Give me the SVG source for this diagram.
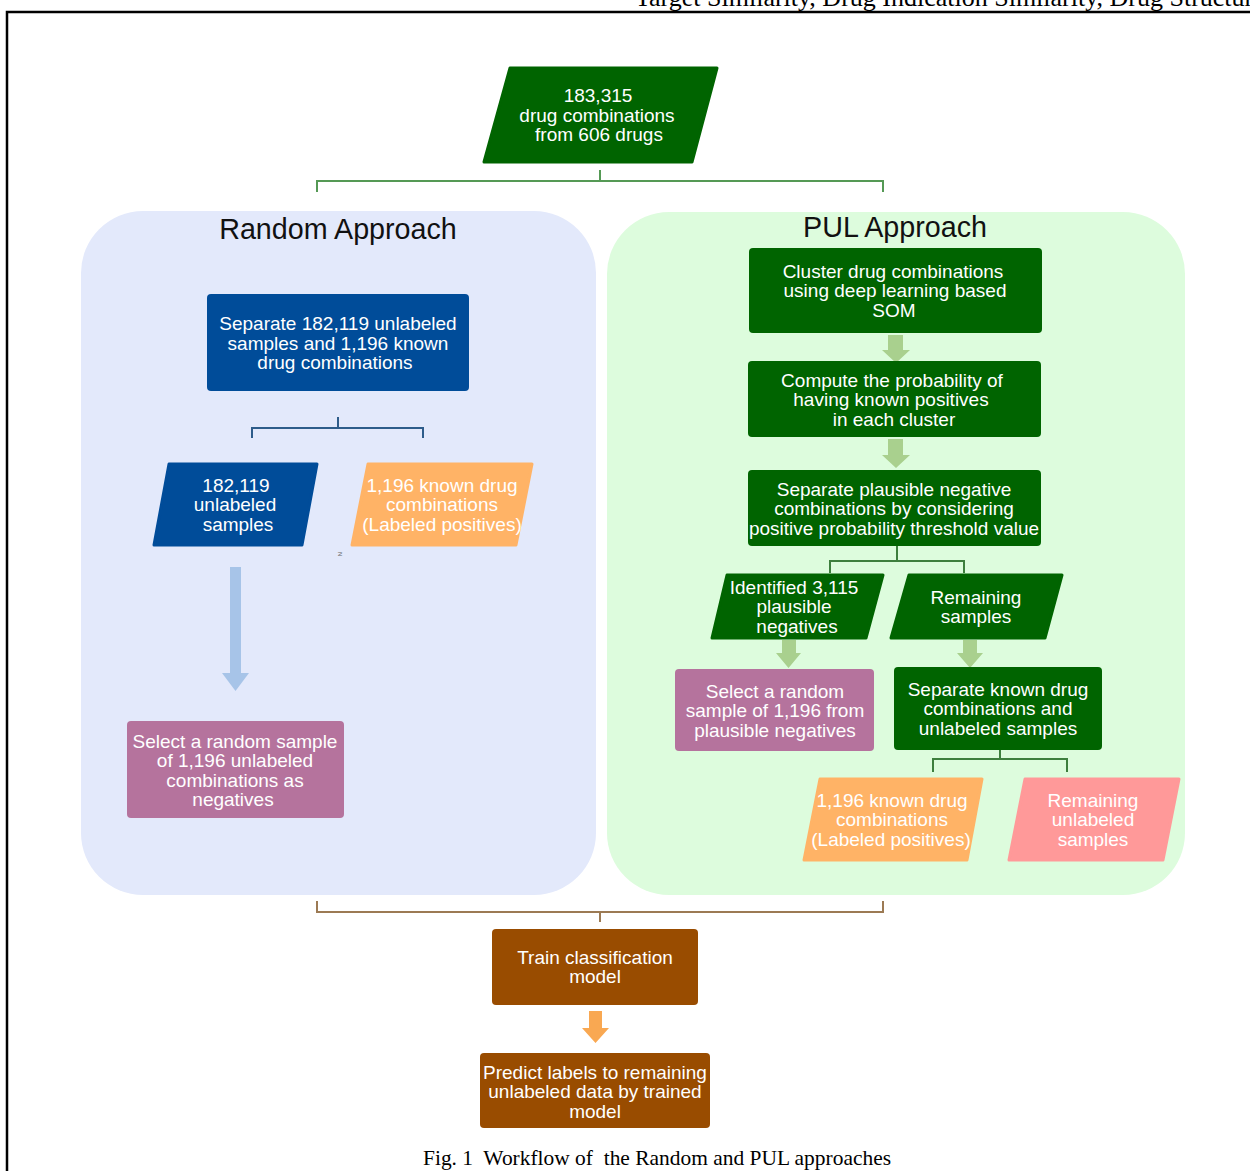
<svg xmlns="http://www.w3.org/2000/svg" width="1250" height="1171" viewBox="0 0 1250 1171">
<style>
.t{font-family:"Liberation Sans",Arial,sans-serif;font-size:19px;fill:#fff;text-anchor:middle}
.title{font-family:"Liberation Sans",Arial,sans-serif;font-size:28.7px;fill:#111;text-anchor:middle}
.serif{font-family:"Liberation Serif","Times New Roman",serif;fill:#000}
.green{fill:#006400}
.blue{fill:#004c99}
.pink{fill:#b5739d}
.orange{fill:#ffb366}
.salmon{fill:#ff9999}
.brown{fill:#994c00}
.para{stroke-width:3;stroke-linejoin:round}
.conn{fill:none;stroke-width:2}
</style>
<rect width="1250" height="1171" fill="#fff"/>
<!-- page frame -->
<text class="serif" x="635" y="6" font-size="26">Target Similarity, Drug Indication Similarity, Drug Structure</text>
<path d="M7 1171 V12 H1250" fill="none" stroke="#000" stroke-width="2.5"/>

<!-- panels -->
<g id="random-panel">
<rect x="81" y="211" width="515" height="684" rx="62" fill="#e3e9fb"/>
<text class="title" x="338" y="239">Random Approach</text>
</g>
<g id="pul-panel">
<rect x="607" y="212" width="578" height="683" rx="62" fill="#ddfcdd"/>
<text class="title" x="895" y="237">PUL Approach</text>
</g>

<!-- connectors -->
<g id="connectors">
<path class="conn" stroke="#559955" d="M600 170 V181 M317 192 V181 H883 V192"/>
<path class="conn" stroke="#2e5c8a" d="M338 417 V428 M252 438 V428 H423 V438"/>
<path class="conn" stroke="#3d7f3d" d="M897 546 V561 M830 573 V561 H964 V573"/>
<path class="conn" stroke="#3d7f3d" d="M1000 750 V759 M933 772 V759 H1067 V772"/>
<path class="conn" stroke="#9c7a54" d="M317 901 V912 H883 V901 M600 912 V922"/>
<!-- block arrows -->
<polygon fill="#a7c4e8" points="230,567 241,567 241,673 249,673 235.5,691 222,673 230,673"/>
<polygon fill="#a9d08e" points="888,335 903,335 903,350 910,350 896,363 882,350 888,350"/>
<polygon fill="#a9d08e" points="888,439 903,439 903,455 910,455 896,468 882,455 888,455"/>
<polygon fill="#a9d08e" points="782,640 796,640 796,653 801,653 788.5,668 776,653 782,653"/>
<polygon fill="#a9d08e" points="963,640 977,640 977,653 983,653 970,668 957,653 963,653"/>
<polygon fill="#f9a852" points="589,1011 602,1011 602,1028 609,1028 595.5,1043 582,1028 589,1028"/>
</g>

<!-- nodes -->
<g id="n-start">
<polygon class="green para" stroke="#006400" points="510,68 717,68 692,162 484,162"/>
<text class="t" x="598" y="102">183,315</text>
<text class="t" x="597" y="121.5">drug combinations</text>
<text class="t" x="599" y="141">from 606 drugs</text>
</g>

<g id="n-separate-random">
<rect class="blue" x="207" y="294" width="262" height="97" rx="4"/>
<text class="t" x="338" y="330">Separate 182,119 unlabeled</text>
<text class="t" x="338" y="349.5">samples and 1,196 known</text>
<text class="t" x="335" y="369">drug combinations</text>
</g>

<g id="n-unlabeled-random">
<polygon class="blue para" stroke="#004c99" points="169,464 317,464 302,545 154,545"/>
<text class="t" x="236" y="491.5">182,119</text>
<text class="t" x="235" y="511">unlabeled</text>
<text class="t" x="238" y="530.5">samples</text>
</g>

<g id="n-positives-random">
<polygon class="orange para" stroke="#ffb366" points="368,464 532,464 516,545 352,545"/>
<text class="t" x="442" y="491.5">1,196 known drug</text>
<text class="t" x="442" y="511">combinations</text>
<text class="t" x="442" y="530.5">(Labeled positives)</text>
</g>
<text x="338" y="552" font-family="Liberation Sans,sans-serif" font-size="6" fill="#666" transform="rotate(90 338 552)">N</text>

<g id="n-select-random">
<rect class="pink" x="127" y="721" width="217" height="97" rx="4"/>
<text class="t" x="235" y="747.5">Select a random sample</text>
<text class="t" x="235" y="767">of 1,196 unlabeled</text>
<text class="t" x="235" y="786.5">combinations as</text>
<text class="t" x="233" y="806">negatives</text>
</g>

<g id="n-cluster">
<rect class="green" x="749" y="248" width="293" height="85" rx="4"/>
<text class="t" x="893" y="277.5">Cluster drug combinations</text>
<text class="t" x="895" y="297">using deep learning based</text>
<text class="t" x="894" y="316.5">SOM</text>
</g>

<g id="n-compute">
<rect class="green" x="748" y="361" width="293" height="76" rx="4"/>
<text class="t" x="892" y="386.5">Compute the probability of</text>
<text class="t" x="891" y="406">having known positives</text>
<text class="t" x="894" y="425.5">in each cluster</text>
</g>

<g id="n-separate-plausible">
<rect class="green" x="748" y="470" width="293" height="76" rx="4"/>
<text class="t" x="894" y="495.5">Separate plausible negative</text>
<text class="t" x="894" y="515">combinations by considering</text>
<text class="t" x="894" y="534.5" textLength="290" lengthAdjust="spacingAndGlyphs">positive probability threshold value</text>
</g>

<g id="n-identified">
<polygon class="green para" stroke="#006400" points="727,575 883,575 866,638 712,638"/>
<text class="t" x="794" y="593.5">Identified 3,115</text>
<text class="t" x="794" y="613">plausible</text>
<text class="t" x="797" y="632.5">negatives</text>
</g>

<g id="n-remaining">
<polygon class="green para" stroke="#006400" points="909,575 1062,575 1045,638 891,638"/>
<text class="t" x="976" y="603.5">Remaining</text>
<text class="t" x="976" y="623">samples</text>
</g>

<g id="n-select-pul">
<rect class="pink" x="675" y="669" width="199" height="82" rx="4"/>
<text class="t" x="775" y="697.5">Select a random</text>
<text class="t" x="775" y="717">sample of 1,196 from</text>
<text class="t" x="775" y="736.5">plausible negatives</text>
</g>

<g id="n-separate-known">
<rect class="green" x="894" y="667" width="208" height="83" rx="4"/>
<text class="t" x="998" y="695.5">Separate known drug</text>
<text class="t" x="998" y="715">combinations and</text>
<text class="t" x="998" y="734.5">unlabeled samples</text>
</g>

<g id="n-positives-pul">
<polygon class="orange para" stroke="#ffb366" points="820,779 982,779 967,860 804,860"/>
<text class="t" x="892" y="806.5">1,196 known drug</text>
<text class="t" x="892" y="826">combinations</text>
<text class="t" x="891" y="845.5">(Labeled positives)</text>
</g>

<g id="n-remaining-unlabeled">
<polygon class="salmon para" stroke="#ff9999" points="1025,779 1179,779 1163,860 1009,860"/>
<text class="t" x="1093" y="806.5">Remaining</text>
<text class="t" x="1093" y="826">unlabeled</text>
<text class="t" x="1093" y="845.5">samples</text>
</g>

<g id="n-train">
<rect class="brown" x="492" y="929" width="206" height="76" rx="4"/>
<text class="t" x="595" y="963.5">Train classification</text>
<text class="t" x="595" y="983">model</text>
</g>

<g id="n-predict">
<rect class="brown" x="480" y="1053" width="230" height="75" rx="4"/>
<text class="t" x="595" y="1078.5">Predict labels to remaining</text>
<text class="t" x="595" y="1098">unlabeled data by trained</text>
<text class="t" x="595" y="1117.5">model</text>
</g>

<text class="serif" x="423" y="1165" font-size="21" textLength="468" lengthAdjust="spacingAndGlyphs" xml:space="preserve">Fig. 1  Workflow of  the Random and PUL approaches</text>
</svg>
